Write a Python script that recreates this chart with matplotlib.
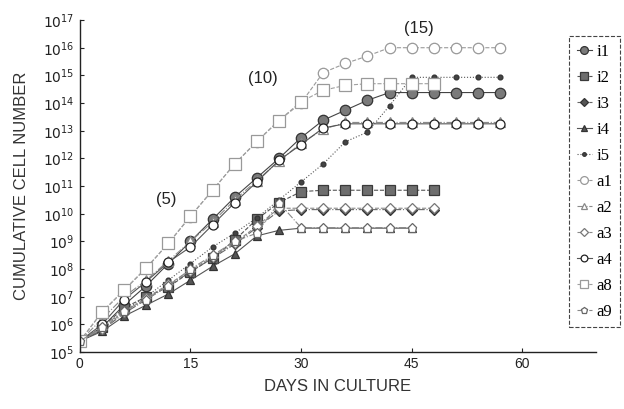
import numpy as np
import matplotlib.pyplot as plt
from matplotlib import ticker

# ── Daten (log10 der kumulativen Zellzahl) ───────────────────────────────────
days = [0, 3, 6, 9, 12, 15, 18, 21, 24, 27, 30, 33, 36, 39, 42, 45, 48, 51, 54, 57]

i1 = [5.4, 5.9, 6.7, 7.4, 8.2, 9.0, 9.8, 10.6, 11.3, 12.0, 12.75, 13.38, 13.74, 14.1, 14.38, 14.38, 14.38, 14.38, 14.38, 14.38]
i2 = [5.4, 5.9, 6.6, 7.0, 7.35, 7.9, 8.4, 9.05, 9.8, 10.4, 10.8, 10.85, 10.85, 10.85, 10.85, 10.85, 10.85]
i3 = [5.4, 5.8, 6.4, 6.9, 7.4, 7.9, 8.4, 8.9, 9.5, 10.1, 10.15, 10.15, 10.15, 10.15, 10.15, 10.15, 10.15]
i4 = [5.4, 5.75, 6.3, 6.7, 7.1, 7.6, 8.1, 8.55, 9.2, 9.4, 9.48, 9.48, 9.48, 9.48, 9.48, 9.48]
i5 = [5.4, 5.8, 6.5, 7.0, 7.6, 8.2, 8.8, 9.3, 9.85, 10.5, 11.15, 11.8, 12.6, 12.95, 13.9, 14.93, 14.93, 14.93, 14.93, 14.93]
a1 = [5.4, 6.44, 7.24, 8.03, 8.93, 9.9, 10.85, 11.8, 12.6, 13.37, 14.0, 15.1, 15.43, 15.7, 16.0, 16.0, 16.0, 16.0, 16.0, 16.0]
a2 = [5.4, 6.2, 7.0, 7.6, 8.3, 9.0, 9.7, 10.5, 11.2, 11.9, 12.55, 13.05, 13.3, 13.3, 13.3, 13.3, 13.3, 13.3, 13.3, 13.3]
a3 = [5.4, 5.85, 6.45, 6.95, 7.45, 7.95, 8.45, 8.95, 9.55, 10.2, 10.2, 10.2, 10.2, 10.2, 10.2, 10.2, 10.2]
a4 = [5.4, 6.0, 6.9, 7.55, 8.25, 8.8, 9.6, 10.4, 11.15, 11.93, 12.5, 13.1, 13.25, 13.25, 13.25, 13.25, 13.25, 13.25, 13.25, 13.25]
a8 = [5.4, 6.45, 7.25, 8.05, 8.93, 9.92, 10.85, 11.8, 12.62, 13.37, 14.05, 14.46, 14.64, 14.7, 14.7, 14.7, 14.7]
a9 = [5.4, 5.9, 6.5, 6.9, 7.4, 8.0, 8.5, 9.0, 9.3, 10.4, 9.5, 9.5, 9.5, 9.5, 9.5, 9.5]

# ── Stile (Label, Marker, Füllung, Rand, Größe, Linie) ───────────────────────
series = [
    ("i1", i1, "o", "#7a7a7a", "#333333", 7.5, "-", "#444444"),
    ("i2", i2, "s", "#6e6e6e", "#3a3a3a", 7, "--", "#555555"),
    ("i3", i3, "D", "#555555", "#333333", 5, "-.", "#666666"),
    ("i4", i4, "^", "#555555", "#333333", 6, "-", "#555555"),
    ("i5", i5, "o", "#444444", "#333333", 3.5, ":", "#555555"),
    ("a1", a1, "o", "white", "#999999", 7.5, "--", "#9a9a9a"),
    ("a2", a2, "^", "white", "#888888", 6.5, "-.", "#8a8a8a"),
    ("a3", a3, "D", "white", "#777777", 5.5, "--", "#8a8a8a"),
    ("a4", a4, "o", "white", "#222222", 6.5, "-", "#555555"),
    ("a8", a8, "s", "white", "#999999", 8, "--", "#a0a0a0"),
    ("a9", a9, "p", "white", "#666666", 6.5, "-.", "#888888"),
]

plt.rcParams["font.family"] = ["Liberation Sans", "DejaVu Sans"]

fig = plt.figure(figsize=(6.24, 4.09), dpi=100)
ax = fig.add_axes([0.128, 0.139, 0.827, 0.812])

for label, vals, mk, fc, ec, ms, ls, lc in series:
    d = days[:len(vals)]
    ax.plot(d, [10.0 ** v for v in vals],
            linestyle=ls, color=lc, linewidth=0.8,
            marker=mk, markersize=ms, markerfacecolor=fc,
            markeredgecolor=ec, markeredgewidth=0.9,
            label=label)

ax.set_yscale("log")
ax.set_ylim(1e5, 1e17)
ax.set_xlim(0, 70)
ax.set_yticks([10.0 ** k for k in range(5, 18)])
ax.yaxis.set_major_formatter(ticker.FuncFormatter(lambda v, p: r"$10^{%d}$" % round(np.log10(v))))
ax.yaxis.set_minor_locator(ticker.NullLocator())
ax.set_xticks([0, 15, 30, 45, 60])
ax.tick_params(direction="in", length=3, width=0.8, labelsize=10, colors="#222222")
ax.tick_params(axis="y", labelsize=10, pad=4)

for s in ("top", "right"):
    ax.spines[s].set_visible(False)
for s in ("left", "bottom"):
    ax.spines[s].set_linewidth(1.0)
    ax.spines[s].set_color("#222222")

ax.set_xlabel("DAYS IN CULTURE", fontsize=12, color="#333333", labelpad=6)
ax.set_ylabel("CUMULATIVE CELL NUMBER", fontsize=12, color="#333333", labelpad=10)

# Passagenummern
ax.text(11.7, 10.0 ** 10.5, "(5)", fontsize=12, ha="center", va="center", color="#222222")
ax.text(24.8, 10.0 ** 14.9, "(10)", fontsize=12, ha="center", va="center", color="#222222")
ax.text(46.0, 10.0 ** 16.7, "(15)", fontsize=12, ha="center", va="center", color="#222222")

leg = fig.legend(loc="upper right", bbox_to_anchor=(0.999, 0.92),
                 prop={"family": "Liberation Serif", "size": 12},
                 labelspacing=0.6, handlelength=0.9, handletextpad=0.3,
                 borderpad=0.45, borderaxespad=0.2, markerscale=0.75,
                 fancybox=False, framealpha=1)
leg.get_frame().set_linestyle("--")
leg.get_frame().set_edgecolor("#444444")
leg.get_frame().set_linewidth(0.8)

fig.savefig("out.png", dpi=100)
